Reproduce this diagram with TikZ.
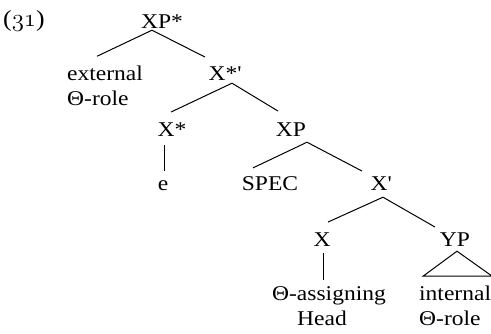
\documentclass[tikz,border=0pt]{standalone}
\usepackage{fontspec}
\setmainfont{Liberation Serif}[FakeStretch=1.12]
\usetikzlibrary{calc}
\newcommand\treefont{\fontsize{21}{25}\selectfont}
\tikzset{%
  treelabel/.style={%
    anchor=base, inner sep=0pt, font=\treefont
  },
  leaflabel/.style={%
    anchor=base west, inner sep=0pt, font=\treefont, align=left
  },
  branch/.style={line width=1pt},
}

\begin{document}
\begin{tikzpicture}[x=1pt,y=-1pt]
    \useasboundingbox (0,0) rectangle (491,334);

    \node (ExNumber)[leaflabel, font=\fontsize{23}{25}\selectfont] at (3,27) {({\usefont{OML}{cmm}{m}{it}31})};

    \node (XPSTAR)[treelabel] at (162,29) {XP*};
    \node (ExternalRole)[leaflabel] at (67,106) {external\\Θ-role};
    \node (XstarBar)[treelabel] at (225,81) {X*\textquotesingle};
    \node (Xstar)[treelabel] at (172,137) {X*};
    \node (XP)[treelabel] at (291,137) {XP};
    \node (Empty)[treelabel] at (163,191) {e};
    \node (Spec)[treelabel] at (270,191) {SPEC};
    \node (Xbar)[treelabel] at (381,191) {X\textquotesingle};
    \node (X)[treelabel] at (322,247) {X};
    \node (YP)[treelabel] at (455,247) {YP};
    \node (AssigningHead)[treelabel, align=center] at (329,326) {Θ-assigning\\Head\hspace*{14pt}};
    \node (InternalRole)[leaflabel] at (419,326) {internal\\Θ-role};

    % branches
    \draw[branch] ($(ExternalRole.north)+(-8,-10)$) -- ($(XPSTAR.south)+(-10,1)$) -- ($(XstarBar.north)+(-20,-10)$);
    \draw[branch] ($(Xstar.north)+(-1,-11)$) -- ($(XstarBar.south)+(7,2)$) -- ($(XP.north)+(-13,-12)$);
    \draw[branch] ($(Xstar.south)+(-8,8)$) -- ($(Empty.north)+(1,-10)$);
    \draw[branch] ($(Spec.north)+(-17,-9)$) -- ($(XP.south)+(16,5)$) -- ($(Xbar.north)+(-19,-6)$);
    \draw[branch] ($(X.north)+(6,-11)$) -- ($(Xbar.south)+(2,6)$) -- ($(YP.north)+(-20,-6)$);
    \draw[branch] ($(X.south)+(1,6)$) -- ($(AssigningHead.north)+(-6,-7)$);
    % triangle over internal role
    \draw[branch] ($(YP.south)+(2,4)$) -- ($(InternalRole.north west)+(4,-10)$)
        -- ($(InternalRole.north east)+(1,-10)$) -- cycle;
\end{tikzpicture}
\end{document}
